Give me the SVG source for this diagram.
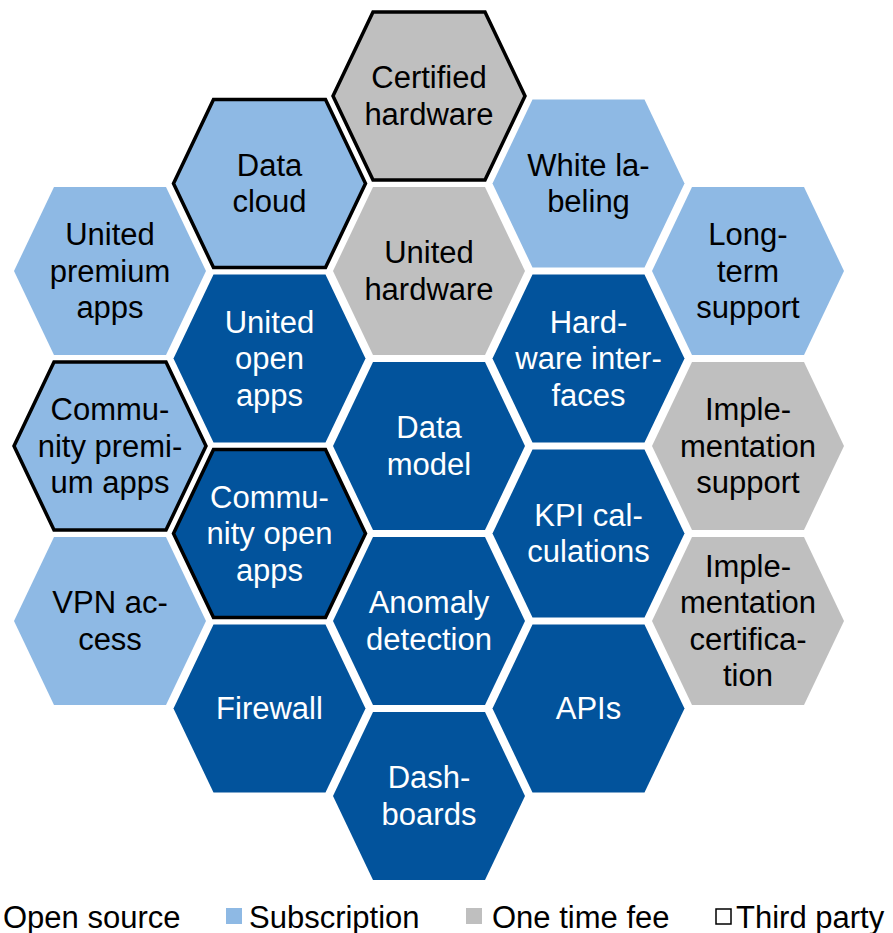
<svg xmlns="http://www.w3.org/2000/svg" xmlns:xlink="http://www.w3.org/1999/xlink" width="893" height="933" viewBox="0 0 893 933">
<style>
.dark{fill:#02539C}
.light{fill:#8EB9E4}
.gray{fill:#BFBFBF}
.tp{stroke:#000;stroke-width:3.5;stroke-linejoin:miter}
text{font-family:"Liberation Sans",Arial,sans-serif;font-size:31px;text-anchor:middle}
.wt{fill:#fff}
.bk{fill:#000}
.leg{text-anchor:start;fill:#000}
</style>
<defs>
<polygon id="hex" points="-96,0 -56,-84 56,-84 96,0 56,84 -56,84"/>
</defs>
<rect width="893" height="933" fill="#fff"/>
<g id="nodes">
<g id="certified-hardware"><use xlink:href="#hex" x="429" y="96" class="gray tp"/><text class="bk" x="429" y="88.2">Certified</text><text class="bk" x="429" y="124.7">hardware</text></g>
<g id="united-hardware"><use xlink:href="#hex" x="429" y="271" class="gray"/><text class="bk" x="429" y="263.2">United</text><text class="bk" x="429" y="299.7">hardware</text></g>
<g id="data-model"><use xlink:href="#hex" x="429" y="446" class="dark"/><text class="wt" x="429" y="438.2">Data</text><text class="wt" x="429" y="474.7">model</text></g>
<g id="anomaly-detection"><use xlink:href="#hex" x="429" y="621" class="dark"/><text class="wt" x="429" y="613.2">Anomaly</text><text class="wt" x="429" y="649.7">detection</text></g>
<g id="dashboards"><use xlink:href="#hex" x="429" y="796" class="dark"/><text class="wt" x="429" y="788.2">Dash-</text><text class="wt" x="429" y="824.7">boards</text></g>

<g id="data-cloud"><use xlink:href="#hex" x="269.5" y="183.5" class="light tp"/><text class="bk" x="269.5" y="175.7">Data</text><text class="bk" x="269.5" y="212.2">cloud</text></g>
<g id="united-open-apps"><use xlink:href="#hex" x="269.5" y="358.5" class="dark"/><text class="wt" x="269.5" y="332.5">United</text><text class="wt" x="269.5" y="369">open</text><text class="wt" x="269.5" y="405.5">apps</text></g>
<g id="community-open-apps"><use xlink:href="#hex" x="269.5" y="533.5" class="dark tp"/><text class="wt" x="269.5" y="507.5">Commu-</text><text class="wt" x="269.5" y="544">nity open</text><text class="wt" x="269.5" y="580.5">apps</text></g>
<g id="firewall"><use xlink:href="#hex" x="269.5" y="708.5" class="dark"/><text class="wt" x="269.5" y="719">Firewall</text></g>

<g id="white-labeling"><use xlink:href="#hex" x="588.5" y="183.5" class="light"/><text class="bk" x="588.5" y="175.7">White la-</text><text class="bk" x="588.5" y="212.2">beling</text></g>
<g id="hardware-interfaces"><use xlink:href="#hex" x="588.5" y="358.5" class="dark"/><text class="wt" x="588.5" y="332.5">Hard-</text><text class="wt" x="588.5" y="369">ware inter-</text><text class="wt" x="588.5" y="405.5">faces</text></g>
<g id="kpi-calculations"><use xlink:href="#hex" x="588.5" y="533.5" class="dark"/><text class="wt" x="588.5" y="525.7">KPI cal-</text><text class="wt" x="588.5" y="562.2">culations</text></g>
<g id="apis"><use xlink:href="#hex" x="588.5" y="708.5" class="dark"/><text class="wt" x="588.5" y="719">APIs</text></g>

<g id="united-premium-apps"><use xlink:href="#hex" x="110" y="271" class="light"/><text class="bk" x="110" y="245">United</text><text class="bk" x="110" y="281.5">premium</text><text class="bk" x="110" y="318">apps</text></g>
<g id="community-premium-apps"><use xlink:href="#hex" x="110" y="446" class="light tp"/><text class="bk" x="110" y="420">Commu-</text><text class="bk" x="110" y="456.5">nity premi-</text><text class="bk" x="110" y="493">um apps</text></g>
<g id="vpn-access"><use xlink:href="#hex" x="110" y="621" class="light"/><text class="bk" x="110" y="613.2">VPN ac-</text><text class="bk" x="110" y="649.7">cess</text></g>

<g id="long-term-support"><use xlink:href="#hex" x="748" y="271" class="light"/><text class="bk" x="748" y="245">Long-</text><text class="bk" x="748" y="281.5">term</text><text class="bk" x="748" y="318">support</text></g>
<g id="implementation-support"><use xlink:href="#hex" x="748" y="446" class="gray"/><text class="bk" x="748" y="420">Imple-</text><text class="bk" x="748" y="456.5">mentation</text><text class="bk" x="748" y="493">support</text></g>
<g id="implementation-certification"><use xlink:href="#hex" x="748" y="621" class="gray"/><text class="bk" x="748" y="576.8">Imple-</text><text class="bk" x="748" y="613.3">mentation</text><text class="bk" x="748" y="649.8">certifica-</text><text class="bk" x="748" y="686.3">tion</text></g>
</g>
<g id="connectors"/>
<g id="legend">
<text class="leg" x="3" y="927.5">Open source</text>
<rect x="226" y="908" width="16" height="16" class="light"/>
<text class="leg" x="249" y="927.5">Subscription</text>
<rect x="466" y="908" width="16" height="16" class="gray"/>
<text class="leg" x="492" y="927.5">One time fee</text>
<rect x="716" y="909" width="15" height="15" fill="#fff" stroke="#000" stroke-width="1.5"/>
<text class="leg" x="736" y="927.5">Third party</text>
</g>
</svg>
